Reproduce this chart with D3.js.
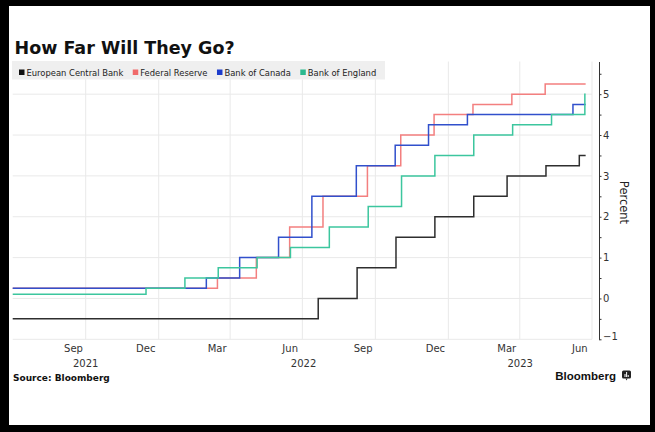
<!DOCTYPE html>
<html>
<head>
<meta charset="utf-8">
<script src="https://cdn.jsdelivr.net/npm/d3@7"></script>
<style>
	body{margin:0;background:#000;}
	svg{display:block;}
</style>
</head>
<body>
<svg id="chart"></svg>
<script>
// chart data, policy rates in percent
let banks = ['European Central Bank','Federal Reserve','Bank of Canada','Bank of England']

let ecb_dates = ['2021-07-01','2022-07-21','2022-09-08','2022-10-27','2022-12-15','2023-02-02','2023-03-16','2023-05-04','2023-06-15','2023-06-23']
let ecb_rates = [-0.5,0,0.75,1.5,2,2.5,3,3.25,3.5,3.5]

let fed_dates = ['2021-07-01','2022-03-16','2022-05-04','2022-06-15','2022-07-27','2022-09-21','2022-11-02','2022-12-14','2023-02-01','2023-03-22','2023-05-03','2023-06-23']
let fed_rates = [0.25,0.5,1,1.75,2.5,3.25,4,4.5,4.75,5,5.25,5.25]

let boc_dates = ['2021-07-01','2022-03-02','2022-04-13','2022-06-01','2022-07-13','2022-09-07','2022-10-26','2022-12-07','2023-01-25','2023-06-07','2023-06-23']
let boc_rates = [0.25,0.5,1,1.5,2.5,3.25,3.75,4.25,4.5,4.75,4.75]

let boe_dates = ['2021-07-01','2021-12-16','2022-02-03','2022-03-17','2022-05-05','2022-06-16','2022-08-04','2022-09-22','2022-11-03','2022-12-15','2023-02-02','2023-03-23','2023-05-11','2023-06-22','2023-06-23']
let boe_rates = [0.1,0.25,0.5,0.75,1,1.25,1.75,2.25,3,3.5,4,4.25,4.5,5,5]

let y_ticks = [-1,0,1,2,3,4,5]
let month_ticks = ['2021-09-15','2021-12-15','2022-03-15','2022-06-15','2022-09-15','2022-12-15','2023-03-15','2023-06-15']
let year_labels = ['2021','2022','2023']

let line_cols = ['#2e2e2e','#f37f7f','#3150cc','#3cc69e']
let key_cols = ['#111','#f06a6a','#1d3ccc','#2bb98f']

const _width = 655
const _height = 432

const parse = d3.timeParse('%Y-%m-%d')

const series = [
	[ecb_dates,ecb_rates],
	[fed_dates,fed_rates],
	[boc_dates,boc_rates],
	[boe_dates,boe_rates]
].map(([ds,vs],i)=>({
	name:banks[i],
	values:ds.map((d,j)=>({date:parse(d),rate:vs[j]}))
}))

const svg = d3.select('#chart')
	.attr('width',_width)
	.attr('height',_height)
	.attr('font-family','DejaVu Sans')

// white page inside the black frame
svg.append('rect')
	.attr('x',9).attr('y',6)
	.attr('width',641).attr('height',419)
	.attr('fill','#fff')

const x = d3.scaleTime()
	.domain([parse('2021-07-01'),parse('2023-07-01')])
	.range([12.7,592])

const y = d3.scaleLinear()
	.domain([-1,5.8])
	.range([339.3,61.5])

/*grid*/
const grid = svg.append('g').attr('stroke','#e9e9e9').attr('stroke-width',1)

grid.selectAll('.hg')
	.data(y_ticks)
	.enter()
	.append('line')
	.attr('x1',x.range()[0])
	.attr('x2',x.range()[1])
	.attr('y1',d=>y(d))
	.attr('y2',d=>y(d))

grid.selectAll('.vg')
	.data(d3.timeMonth.every(3).range(parse('2021-10-01'),parse('2023-07-02')))
	.enter()
	.append('line')
	.attr('x1',d=>x(d))
	.attr('x2',d=>x(d))
	.attr('y1',y.range()[1])
	.attr('y2',y.range()[0])

/*lines*/
const line = d3.line()
	.curve(d3.curveStepAfter)
	.x(d=>x(d.date))
	.y(d=>y(d.rate))

svg.append('g')
	.selectAll('path')
	.data(series)
	.enter()
	.append('path')
	.attr('d',d=>line(d.values))
	.attr('fill','none')
	.attr('stroke',(d,i)=>line_cols[i])
	.attr('stroke-width',1.5)

/*title*/
svg.append('text')
	.attr('x',14.5)
	.attr('y',54)
	.attr('font-weight','bold')
	.attr('font-size','17.5px')
	.attr('fill','#111')
	.text('How Far Will They Go?')

/*legend*/
svg.append('rect')
	.attr('x',12)
	.attr('y',61)
	.attr('width',373)
	.attr('height',18.5)
	.attr('fill','#efefef')

let lx = 19
banks.forEach((b,i)=>{
	const g = svg.append('g').attr('transform',`translate(${lx},0)`)
	g.append('rect')
		.attr('x',0).attr('y',69.5)
		.attr('width',5.5).attr('height',5.5)
		.attr('fill',key_cols[i])
	const t = g.append('text')
		.attr('x',7.5)
		.attr('y',75.5)
		.attr('font-size','8.4px')
		.attr('fill','#222')
		.text(b)
	lx += 7.5 + t.node().getComputedTextLength() + 9.5
})

/*y axis on the right*/
const yAxis = svg.append('g')
	.attr('transform','translate(599,0)')
	.call(d3.axisRight(y)
		.tickValues(d3.range(-1,5.51,0.5))
		.tickSize(2.5)
		.tickSizeOuter(0)
		.tickPadding(1.5)
		.tickFormat(d=>Number.isInteger(d) ? d3.format('')(d) : ''))

yAxis.select('.domain').attr('stroke','#333')
yAxis.selectAll('.tick line').attr('stroke','#333')
yAxis.selectAll('.tick text')
	.attr('font-family','DejaVu Sans')
	.attr('font-size','10px')
	.attr('fill','#333')
	.attr('dy',d=>d===-1 ? '0.0em' : '0.32em')

svg.append('text')
	.attr('transform','translate(624,202.5) rotate(90)')
	.attr('text-anchor','middle')
	.attr('dominant-baseline','central')
	.attr('font-size','11.5px')
	.attr('fill','#222')
	.text('Percent')

/*x axis, months centred in the month, years under them*/
const xAxis = svg.append('g')
	.attr('transform',`translate(0,${y.range()[0]})`)
	.call(d3.axisBottom(x)
		.tickValues(month_ticks.map(parse))
		.tickSize(0)
		.tickPadding(6)
		.tickFormat(d3.timeFormat('%b')))

xAxis.select('.domain').remove()
xAxis.selectAll('.tick text')
	.attr('font-family','DejaVu Sans')
	.attr('font-size','10px')
	.attr('fill','#333')

svg.selectAll('.year')
	.data(year_labels)
	.enter()
	.append('text')
	.classed('year',true)
	.attr('x',d=>{
		const a = d3.max([parse(d+'-01-01'),x.domain()[0]])
		const b = d3.min([parse((+d+1)+'-01-01'),x.domain()[1]])
		return (x(a)+x(b))/2
	})
	.attr('y',366.5)
	.attr('text-anchor','middle')
	.attr('font-size','10px')
	.attr('fill','#333')
	.text(d=>d)

/*footer*/
svg.append('text')
	.attr('x',13)
	.attr('y',380.5)
	.attr('font-weight','bold')
	.attr('font-size','9px')
	.attr('fill','#111')
	.text('Source: Bloomberg')

svg.append('text')
	.attr('x',616)
	.attr('y',379.5)
	.attr('text-anchor','end')
	.attr('font-family','Liberation Sans')
	.attr('font-weight','bold')
	.attr('font-size','11.5px')
	.attr('fill','#111')
	.text('Bloomberg')

// little logo box
const logo = svg.append('g').attr('transform','translate(622,370.5)')
logo.append('rect')
	.attr('width',9).attr('height',8)
	.attr('rx',1.5)
	.attr('fill','#222')
logo.append('path')
	.attr('d','M3.5,8 L4.5,10 L5.5,8 Z')
	.attr('fill','#222')
logo.selectAll('.bar')
	.data([3,5,2])
	.enter()
	.append('rect')
	.attr('x',(d,i)=>2.5+i*1.6)
	.attr('y',d=>6.5-d)
	.attr('width',1)
	.attr('height',d=>d)
	.attr('fill','#fff')
</script>
</body>
</html>
